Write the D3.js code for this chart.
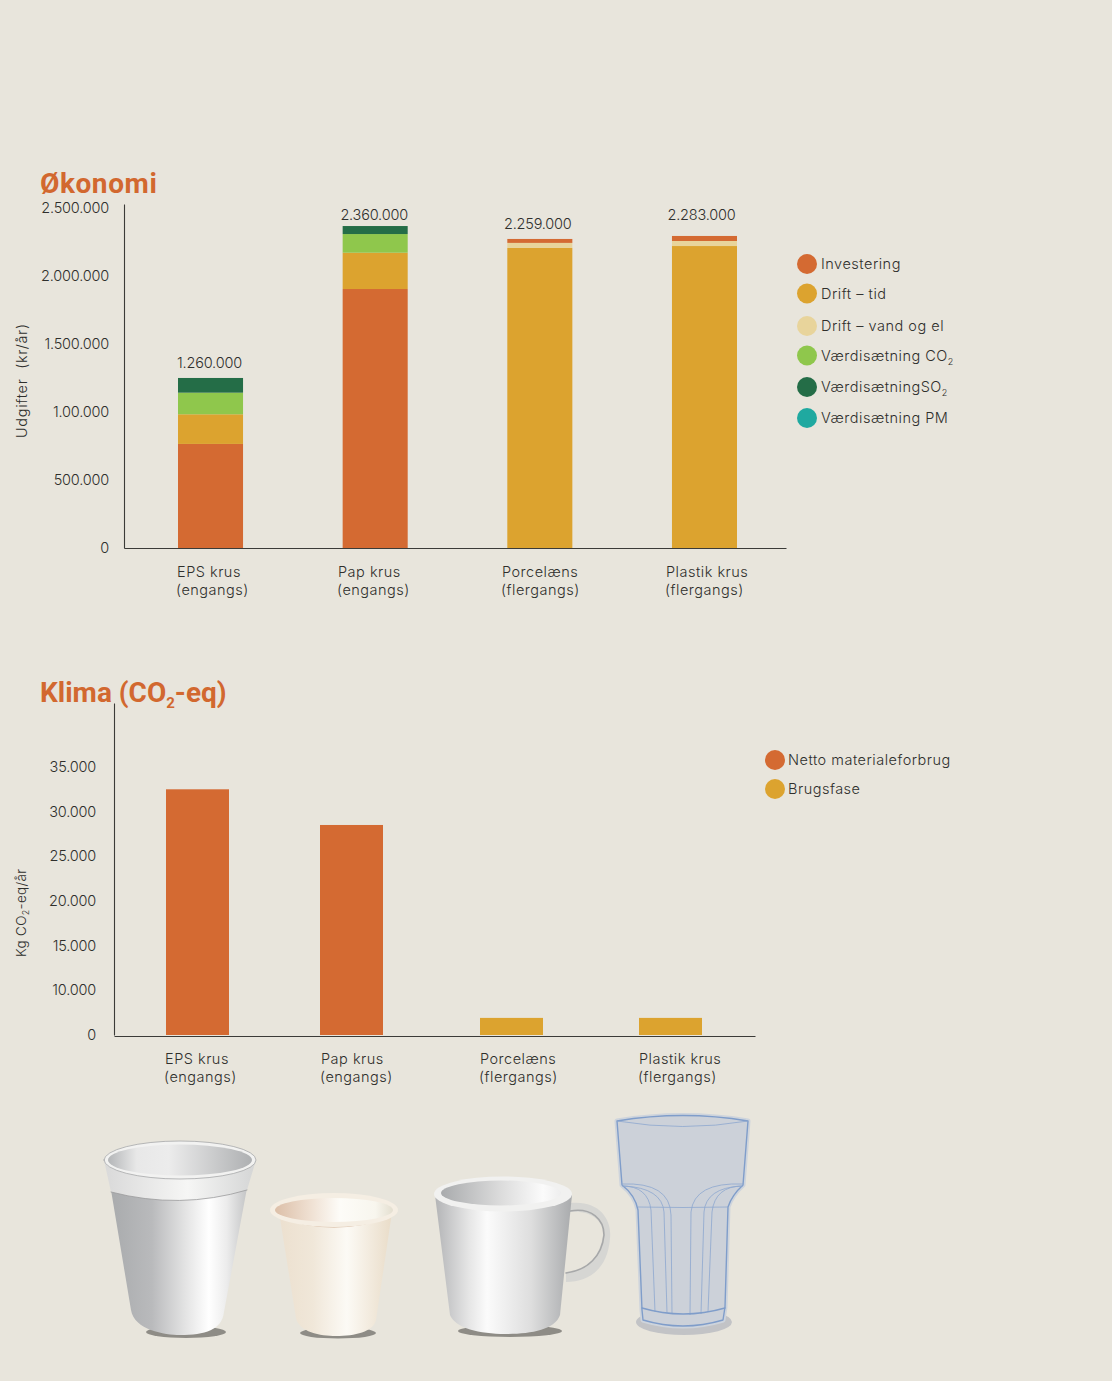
<!DOCTYPE html>
<html>
<head>
<meta charset="utf-8">
<script src="https://cdn.jsdelivr.net/npm/d3@7"></script>
<style>
  html, body { margin: 0; padding: 0; background: #e8e5dc; }
  svg { display: block; }
  text { font-family: Inter, Roboto, sans-serif; font-weight: 300; fill: #2f2f2c; font-size: 14.5px; letter-spacing: .5px; }
  text.num { letter-spacing: -.2px; }
  .title { font-family: Roboto, sans-serif; font-weight: 700; fill: #d2682f; font-size: 28px; letter-spacing: .6px; }
  .domain { stroke: #3b3b38; stroke-width: 1.1; }
</style>
</head>
<body>
<svg width="1112" height="1381"></svg>
<script>
// data
var cups = ['EPS krus', 'Pap krus', 'Porcelæns', 'Plastik krus'];
var cupKinds = ['(engangs)', '(engangs)', '(flergangs)', '(flergangs)'];

var investering = [765000, 1904000, 29000, 37000];
var driftTid = [218000, 267000, 2206000, 2220000];
var driftVand = [0, 0, 37000, 37000];
var vaerdiCO2 = [159000, 137000, 0, 0];
var vaerdiSO2 = [108000, 59000, 0, 0];
var vaerdiPM = [0, 0, 0, 0];
var totals = [1260000, 2360000, 2259000, 2283000];
var totalLabels = ['1.260.000', '2.360.000', '2.259.000', '2.283.000'];

var econTicks = [0, 500000, 1000000, 1500000, 2000000, 2500000];
var econTickLabels = ['0', '500.000', '1.00.000', '1.500.000', '2.000.000', '2.500.000'];

var materiale = [32500, 28500, 0, 0];
var brugsfase = [0, 0, 3800, 3800];
var climateTicks = [0, 10000, 15000, 20000, 25000, 30000, 35000];
var climateTickLabels = ['0', '10.000', '15.000', '20.000', '25.000', '30.000', '35.000'];

var orange = '#d46a32', gold = '#dca32f', sand = '#e8d49b',
    green = '#8fc74c', darkGreen = '#246d47', teal = '#1fa9a0';

var econSeries = [
  {name: 'Investering', values: investering, color: orange},
  {name: 'Drift – tid', values: driftTid, color: gold},
  {name: 'Drift – vand og el', values: driftVand, color: sand},
  {name: 'Værdisætning CO', sub: '2', values: vaerdiCO2, color: green},
  {name: 'VærdisætningSO', sub: '2', values: vaerdiSO2, color: darkGreen},
  {name: 'Værdisætning PM', values: vaerdiPM, color: teal}
];

var svg = d3.select('svg');
svg.append('rect').attr('width', 1112).attr('height', 1381).attr('fill', '#e8e5dc');

function leftAxis(scale, x, values, labels) {
  svg.append('g')
    .attr('transform', 'translate(' + x + ',0)')
    .call(d3.axisLeft(scale).tickValues(values).tickSize(0).tickPadding(0)
      .tickFormat(function(d) { return labels[values.indexOf(d)]; }))
    .call(function(g) {
      g.selectAll('text').attr('class', 'num').attr('dx', x == 124 ? -15 : -18);
      g.attr('font-family', null).attr('font-size', null);
    });
}

function bottomAxis(x0, x1, y) {
  svg.append('g')
    .attr('transform', 'translate(0,' + y + ')')
    .call(d3.axisBottom(d3.scaleLinear().range([x0, x1])).tickValues([]).tickSizeOuter(0));
}

function categoryLabels(scale, y) {
  cups.forEach(function(c, i) {
    svg.append('text').attr('x', scale(c) + 1).attr('y', y).text(c);
    svg.append('text').attr('x', scale(c)).attr('y', y + 18).text(cupKinds[i]);
  });
}

function legendRows(rows, cx, textX, ys) {
  rows.forEach(function(r, i) {
    svg.append('circle').attr('cx', cx).attr('cy', ys[i]).attr('r', 10).attr('fill', r.color);
    var t = svg.append('text').attr('x', textX).attr('y', ys[i] + 5).text(r.name);
    if (r.sub) t.append('tspan').attr('dy', 4).style('font-size', '9px').text(r.sub);
  });
}

// ---- Okonomi ----
svg.append('text').attr('class', 'title').attr('x', 40).attr('y', 192.5).text('Økonomi');

var econY = d3.scaleLinear().domain([0, 2529000]).range([548, 204]);
var econX = d3.scaleBand().domain(cups).range([178, 737]).paddingInner(.605);
var econLabelX = d3.scaleOrdinal().domain(cups).range([176, 337, 501, 665]);

// engangs has the investment at the bottom, flergangs on top of the running costs
var rows = cups.map(function(c, i) {
  var row = {cup: c};
  econSeries.forEach(function(s) { row[s.name] = s.values[i]; });
  return row;
});
var names = econSeries.map(function(s) { return s.name; });
var reusableOrder = [names[1], names[2], names[0], names[3], names[4], names[5]];
var colorOf = d3.scaleOrdinal().domain(names).range(econSeries.map(function(s) { return s.color; }));

[[rows.slice(0, 2), names], [rows.slice(2), reusableOrder]].forEach(function(part) {
  var layers = d3.stack().keys(part[1])(part[0]);
  svg.append('g').selectAll('g').data(layers).join('g')
    .attr('fill', function(d) { return colorOf(d.key); })
    .selectAll('rect').data(function(d) { return d; }).join('rect')
    .attr('x', function(d) { return econX(d.data.cup); })
    .attr('width', econX.bandwidth())
    .attr('y', function(d) { return econY(d[1]); })
    .attr('height', function(d) { return econY(d[0]) - econY(d[1]); });
});

leftAxis(econY, 124, econTicks, econTickLabels);
bottomAxis(124, 786, 548);
categoryLabels(econLabelX, 577);

var totalDx = [-1, -1, -2, -3], totalDy = [-9, -7, -12, -17];
svg.append('g').selectAll('text').data(totals).join('text')
  .attr('class', 'num')
  .attr('text-anchor', 'middle')
  .attr('x', function(d, i) { return econX(cups[i]) + econX.bandwidth() / 2 + totalDx[i]; })
  .attr('y', function(d, i) { return econY(d) + totalDy[i]; })
  .text(function(d, i) { return totalLabels[i]; });

svg.append('text').attr('transform', 'translate(27,438) rotate(-90)')
  .style('letter-spacing', '.7px').style('white-space', 'pre').text('Udgifter  (kr/år)');
legendRows(econSeries, 807, 821, [264, 293.5, 326, 355.5, 387, 418]);

// ---- Klima ----
var klima = svg.append('text').attr('class', 'title').attr('x', 40).attr('y', 702)
  .style('letter-spacing', '0').text('Klima (CO');
klima.append('tspan').attr('dy', 6).style('font-size', '15px').text('2');
klima.append('tspan').attr('dy', -6).text('-eq)');

// the printed axis jumps from 0 straight to 10.000 in one tick step, so the scale has a knee there
var climateY = d3.scaleLinear().domain([0, 10000, 35000, 42000]).range([1035, 990, 767, 703]);
var climateX = d3.scaleOrdinal().domain(cups).range([166, 320, 480, 639]);
var climateLabelX = d3.scaleOrdinal().domain(cups).range([164, 320, 479, 638]);
var climateBarWidth = 63;

[[materiale, orange], [brugsfase, gold]].forEach(function(s) {
  svg.append('g').attr('fill', s[1]).selectAll('rect').data(s[0]).join('rect')
    .attr('x', function(d, i) { return climateX(cups[i]); })
    .attr('width', climateBarWidth)
    .attr('y', function(d) { return climateY(d); })
    .attr('height', function(d) { return climateY(0) - climateY(d); });
});

leftAxis(climateY, 114, climateTicks, climateTickLabels);
bottomAxis(114, 755, 1036);
categoryLabels(climateLabelX, 1064);

var kg = svg.append('text').attr('transform', 'translate(26,957) rotate(-90)')
  .style('font-size', '13.5px').style('letter-spacing', '.3px').text('Kg CO');
kg.append('tspan').attr('dy', 3).style('font-size', '9px').text('2');
kg.append('tspan').attr('dy', -3).text('-eq/år');

legendRows([{name: 'Netto materialeforbrug', color: orange}, {name: 'Brugsfase', color: gold}], 775, 788, [760, 789]);

// ---- cup drawings, not data ----
var defs = svg.append('defs');
function gradient(id, stops) {
  var g = defs.append('linearGradient').attr('id', id);
  stops.forEach(function(s) {
    g.append('stop').attr('offset', s[0]).attr('stop-color', s[1]);
  });
}
gradient('gEps', [[0, '#a9abad'], [.3, '#b9babc'], [.55, '#e4e4e4'], [.72, '#ffffff'], [.85, '#ececec'], [1, '#c4c5c6']]);
gradient('gEpsIn', [[0, '#b4b6b8'], [.2, '#e8e8e8'], [.42, '#ececec'], [.75, '#c9cacb'], [1, '#aeb0b2']]);
gradient('gEpsBand', [[0, '#d9d9d9'], [.55, '#f6f6f5'], [1, '#d4d5d5']]);
gradient('gPap', [[0, '#ece0cf'], [.3, '#f0e7d9'], [.6, '#fcfaf5'], [1, '#e9dcc8']]);
gradient('gPapIn', [[0, '#dcbfa8'], [.3, '#efe0d2'], [.55, '#fdfcf8'], [.85, '#f8f6ee'], [1, '#e4dfd0']]);
gradient('gMug', [[0, '#b3b4b6'], [.25, '#e6e6e6'], [.38, '#fbfbfb'], [.7, '#dedede'], [1, '#a9abad']]);
gradient('gMugIn', [[0, '#a9abad'], [.5, '#dcdcdc'], [.85, '#fbfbfb'], [1, '#eeeeee']]);

function shape(d, fill, stroke, width) {
  return svg.append('path').attr('d', d).attr('fill', fill)
    .attr('stroke', stroke || 'none').attr('stroke-width', width || 1)
    .attr('stroke-linejoin', 'round').attr('stroke-linecap', 'round');
}

// EPS cup
svg.append('ellipse').attr('cx', 186).attr('cy', 1332).attr('rx', 40).attr('ry', 6).attr('fill', '#8e8c86');
shape('M111,1190 L131,1310 C134,1330 165,1335 180,1335 C205,1335 222,1330 224,1312 L247,1188 Z', 'url(#gEps)');
shape('M104,1160 L111,1192 Q180,1210 247,1190 L256,1160 Q180,1180 104,1160 Z', 'url(#gEpsBand)');
shape('M111,1192 Q180,1210 247,1190', 'none', '#9a9b9c', .8);
shape('M104,1160 A76,19 0 0 1 256,1160 A76,19 0 0 1 104,1160 Z', '#f2f2f1', '#a6a7a8', .8);
svg.append('ellipse').attr('cx', 180).attr('cy', 1160).attr('rx', 72).attr('ry', 15.5).attr('fill', 'url(#gEpsIn)');

// paper cup
svg.append('ellipse').attr('cx', 338).attr('cy', 1333).attr('rx', 38).attr('ry', 5.5).attr('fill', '#8e8c86');
shape('M279,1212 L296,1318 C299,1332 320,1336 336,1336 C355,1336 373,1332 376,1320 L392,1212 Z', 'url(#gPap)');
shape('M276,1216 Q334,1238 392,1216', 'none', '#cfae92', 1.2);
svg.append('ellipse').attr('cx', 334).attr('cy', 1210).attr('rx', 64).attr('ry', 17).attr('fill', '#f5eee3');
svg.append('ellipse').attr('cx', 334).attr('cy', 1210).attr('rx', 59).attr('ry', 12).attr('fill', 'url(#gPapIn)');

// mug
svg.append('ellipse').attr('cx', 510).attr('cy', 1331).attr('rx', 52).attr('ry', 6).attr('fill', '#8e8c86');
shape('M570,1203 C600,1200 612,1220 610,1238 C608,1268 590,1282 566,1282 L566,1272 C585,1272 600,1258 603,1235 C604,1220 590,1210 570,1212 Z', '#d6d6d3');
shape('M570,1211 C592,1207 604,1220 604,1235 C602,1256 588,1270 566,1273', 'none', '#a7a8a9', 1.6);
shape('M435,1195 L450,1315 C455,1328 480,1334 505,1334 C530,1334 555,1330 560,1315 L572,1195 Z', 'url(#gMug)');
svg.append('ellipse').attr('cx', 503).attr('cy', 1194).attr('rx', 69).attr('ry', 17.5).attr('fill', '#f1f1f0');
svg.append('ellipse').attr('cx', 501).attr('cy', 1193).attr('rx', 60).attr('ry', 12.5).attr('fill', 'url(#gMugIn)');

// glass
svg.append('ellipse').attr('cx', 684).attr('cy', 1322).attr('rx', 48).attr('ry', 13).attr('fill', '#c2c3c6');
var glassOutline = 'M617,1121 L622,1185 Q635,1195 638,1210 L642,1310 L643,1320 Q683,1332 723,1320 L725,1307 L728,1207 Q732,1195 743,1185 L748,1121 Q683,1110 617,1121 Z';
shape(glassOutline, '#ccd1d9', '#ced4dc', 5);
shape(glassOutline, '#ccd1d9', '#7f9dca', 1.4);
var glassLines = svg.append('g').attr('fill', 'none').attr('stroke', '#8da7cf').attr('stroke-width', .8);
['M617,1121 Q683,1132 748,1121',
 'M638,1207 Q683,1208 728,1207',
 'M622,1186 Q648,1186 651,1210 L655,1312',
 'M624,1186 Q662,1188 664,1212 L667,1313',
 'M622,1184 Q670,1182 671,1215 L672,1314',
 'M743,1186 Q715,1186 712,1212 L708,1312',
 'M741,1186 Q706,1188 704,1212 L701,1314',
 'M743,1184 Q694,1182 691,1212 L690,1315'].forEach(function(d) {
  glassLines.append('path').attr('d', d);
});
shape('M642,1308 Q683,1320 725,1308', 'none', '#7f9dca', 1.4);
</script>
</body>
</html>
